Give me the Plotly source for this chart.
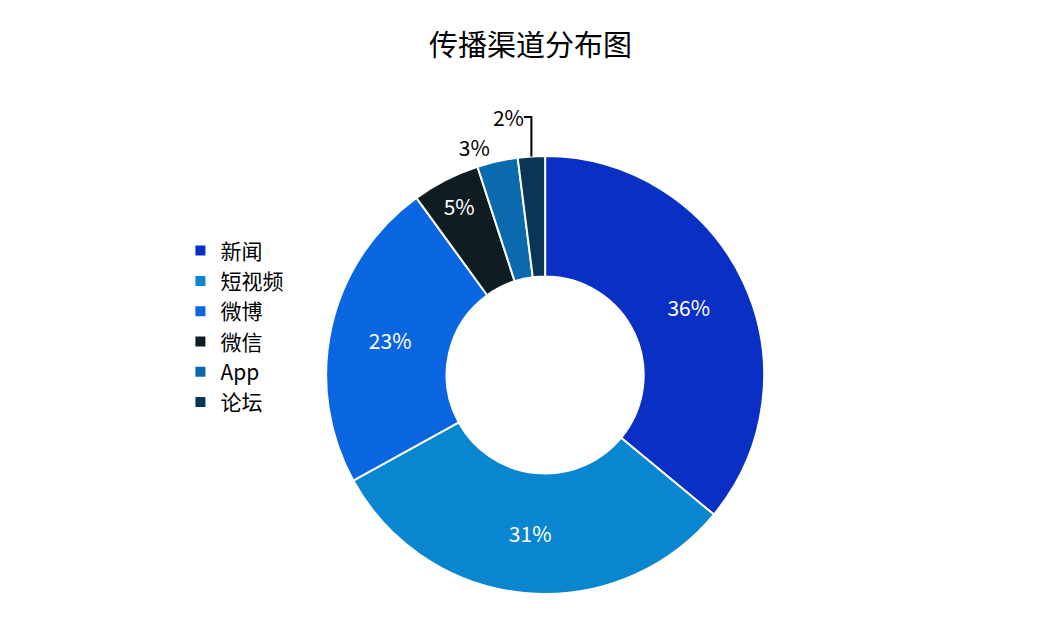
import plotly.graph_objects as go

labels = ["新闻", "短视频", "微博", "微信", "App", "论坛"]
values = [36, 31, 23, 5, 3, 2]
colors = ["#0a2fc4", "#0a85cf", "#0a66e0", "#0f1c22", "#0a6aad", "#0a3557"]
positions = ["inside", "inside", "inside", "inside", "outside", "outside"]
text_colors = ["white", "white", "white", "white", "black", "black"]

fig = go.Figure(go.Pie(
    labels=labels, values=values, hole=0.45, sort=False, direction="clockwise",
    rotation=0, marker=dict(colors=colors, line=dict(color="white", width=2)),
    texttemplate="%{percent:.0%}", textposition=positions,
    insidetextfont=dict(color="white", size=21),
    outsidetextfont=dict(color="black", size=21),
    domain=dict(x=[0.2, 0.828], y=[0, 1]),
))
fig.update_layout(
    width=1045, height=633,
    margin=dict(l=0, r=0, t=148, b=47),
    title=dict(text="传播渠道分布图", x=0.5, xanchor="center", y=0.94, yanchor="middle",
               font=dict(size=29, color="black")),
    font=dict(family="Noto Sans CJK SC, Open Sans, sans-serif"),
    legend=dict(x=0.165, y=0.83, xanchor="left", yanchor="top",
                font=dict(size=21, color="black"), itemwidth=30, tracegroupgap=8),
    paper_bgcolor="white",
)
fig.write_html("out.html")
